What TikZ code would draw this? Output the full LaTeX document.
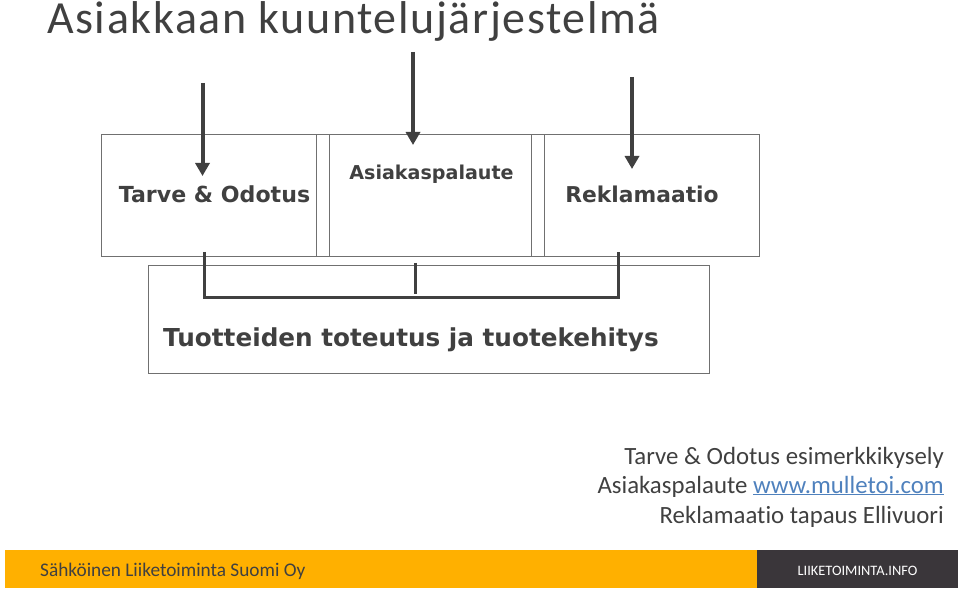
\documentclass[tikz,border=0pt]{standalone}
\usepackage{fontspec}
\setmainfont{Carlito}[Ligatures=NoCommon]
\newfontfamily\boxfont{DejaVu Sans}[BoldFont={DejaVu Sans Bold}]
\newfontfamily\titlefont{Carlito}[Ligatures=NoCommon, LetterSpace=3.5]
\usetikzlibrary{arrows.meta}
\definecolor{inkgrey}{HTML}{404040}
\definecolor{framegrey}{HTML}{707070}
\definecolor{barorange}{HTML}{FFB000}
\definecolor{bardark}{HTML}{3A363A}
\definecolor{linkblue}{HTML}{4F81BD}
\tikzset{
    panel/.style={draw=framegrey, line width=1.4pt, fill=white, inner sep=0pt, anchor=north west},
    panellabel/.style={text=inkgrey, inner sep=0pt, anchor=base, font=\boxfont\bfseries\fontsize{#1}{#1}\selectfont},
    sidenote/.style={text=inkgrey, inner sep=0pt, anchor=base east, font=\fontsize{24.8}{24.8}\selectfont},
    feed/.style={draw=inkgrey, line width=4pt, -{Triangle[width=14pt,length=13pt]}},
    collect/.style={draw=inkgrey, line width=3pt}
}
\begin{document}
\begin{tikzpicture}[x=1pt, y=-1pt]
    \useasboundingbox (0, 0) rectangle (960, 593);
    % boxes
    \node (devbox) at (148, 265) [panel, minimum width=561pt, minimum height=108pt] {};
    \node (needbox) at (101, 134) [panel, minimum width=215pt, minimum height=122pt] {};
    \node (gapa) at (316, 134) [panel, minimum width=13pt, minimum height=122pt] {};
    \node (feedbackbox) at (329, 134) [panel, minimum width=202pt, minimum height=122pt] {};
    \node (gapb) at (531, 134) [panel, minimum width=13pt, minimum height=122pt] {};
    \node (claimbox) at (544, 134) [panel, minimum width=215pt, minimum height=122pt] {};
    % box labels
    \node (needlabel) at (214.5, 203) [panellabel=22.1] {Tarve \& Odotus};
    \node (feedbacklabel) at (431.5, 180) [panellabel=19.1] {Asiakaspalaute};
    \node (claimlabel) at (642, 203) [panellabel=21.8] {Reklamaatio};
    \node (devlabel) at (411, 346) [panellabel=24.7] {Tuotteiden toteutus ja tuotekehitys};
    % arrows coming in
    \coordinate (needtop) at (202.5, 83);
    \coordinate (needtip) at (202.5, 176);
    \coordinate (feedbacktop) at (413, 52);
    \coordinate (feedbacktip) at (413, 145);
    \coordinate (claimtop) at (632, 77);
    \coordinate (claimtip) at (632, 169);
    \draw [feed] (needtop) -- (needtip);
    \draw [feed] (feedbacktop) -- (feedbacktip);
    \draw [feed] (claimtop) -- (claimtip);
    % bracket
    \coordinate (collectleft) at (204.5, 252);
    \coordinate (collectright) at (618, 252);
    \coordinate (collectmidtop) at (415, 263);
    \coordinate (collectmidend) at (415, 294);
    \draw [collect] (collectleft) |- (collectright |- 0, 298) -- (collectright);
    \draw [collect] (collectmidtop) -- (collectmidend);
    % title and notes
    \node (title) at (47, 34) [anchor=base west, inner sep=0pt, text=inkgrey, font=\titlefont\fontsize{46}{46}\selectfont] {Asiakkaan kuuntelujärjestelmä};
    \node (noteneed) at (944, 464) [sidenote] {Tarve \& Odotus esimerkkikysely};
    \node (notefeedback) at (944, 493) [sidenote] {Asiakaspalaute \textcolor{linkblue}{\underline{www.mulletoi.com}}};
    \node (noteclaim) at (944, 523) [sidenote] {Reklamaatio tapaus Ellivuori};
    % footer
    \fill [barorange] (5, 550) rectangle (757, 588);
    \fill [bardark] (757, 550) rectangle (958, 588);
    \node (company) at (40, 576) [anchor=base west, inner sep=0pt, text=inkgrey, font=\fontsize{19.3}{19.3}\selectfont] {Sähköinen Liiketoiminta Suomi Oy};
    \node (brand) at (857.5, 571) [text=white, inner sep=0pt, font=\fontsize{14.4}{14.4}\selectfont] {LIIKETOIMINTA.INFO};
\end{tikzpicture}
\end{document}
